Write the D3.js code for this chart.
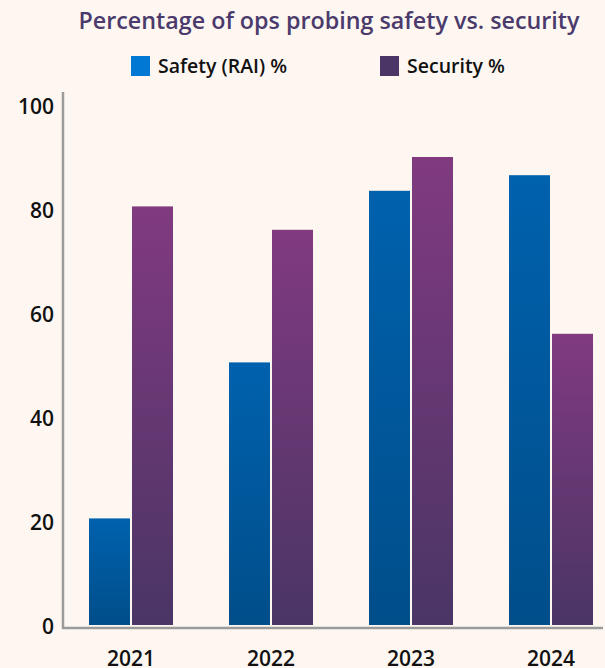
<!DOCTYPE html>
<html>
<head>
<meta charset="utf-8">
<script src="https://cdn.jsdelivr.net/npm/d3@7"></script>
<style>
  html, body { margin: 0; padding: 0; background: #fef7f1; }
  svg { display: block; font-family: "Open Sans", "Noto Sans", sans-serif; }
  .tick-label { fill: #111; font-size: 21px; font-weight: 600; }
</style>
</head>
<body>
<svg width="605" height="668"></svg>
<script>
// Chart data
const years = ["2021", "2022", "2023", "2024"];
const seriesNames = ["Safety (RAI) %", "Security %"];
const safetyValues = [20.5, 50.5, 83.5, 86.5];
const securityValues = [80.5, 76, 90, 56];
const yTicks = [0, 20, 40, 60, 80, 100];

const width = 605;
const height = 668;

const svg = d3.select("svg");

// Gradients for bars
const defs = svg.append("defs");
const gradients = [
    { id: "grad-safety", top: "#0061ad", bottom: "#004e8a" },
    { id: "grad-security", top: "#813a7f", bottom: "#4a3566" }
];
gradients.forEach(g => {
    const lg = defs.append("linearGradient")
        .attr("id", g.id)
        .attr("x1", 0).attr("y1", 0)
        .attr("x2", 0).attr("y2", 1);
    lg.append("stop").attr("offset", "0%").attr("stop-color", g.top);
    lg.append("stop").attr("offset", "100%").attr("stop-color", g.bottom);
});

// Scales
const x0 = d3.scaleBand()
    .domain(years)
    .range([61, 621])
    .paddingInner(0.4)
    .paddingOuter(0.2);

const x1 = d3.scaleBand()
    .domain(seriesNames)
    .range([0, x0.bandwidth()])
    .paddingInner(0.047);

const y = d3.scaleLinear()
    .domain([0, 100])
    .range([625, 105]);

// Title
svg.append("text")
    .attr("x", 329)
    .attr("y", 29)
    .attr("text-anchor", "middle")
    .attr("fill", "#4b3a6c")
    .style("font-size", "23.3px")
    .style("font-weight", 600)
    .text("Percentage of ops probing safety vs. security");

// Legend
const legendColors = ["#0078d4", "#4b3566"];
const legendX = [131, 380];
seriesNames.forEach((name, i) => {
    svg.append("rect")
        .attr("x", legendX[i])
        .attr("y", 56)
        .attr("width", 19)
        .attr("height", 20)
        .attr("fill", legendColors[i]);
    svg.append("text")
        .attr("x", legendX[i] + 27)
        .attr("y", 73)
        .attr("fill", "#111")
        .style("font-size", "19.5px")
        .style("font-weight", 600)
        .text(name);
});

// Bars
const data = years.map((yr, i) => ({
    year: yr,
    values: [
        { key: seriesNames[0], value: safetyValues[i], fill: "url(#grad-safety)" },
        { key: seriesNames[1], value: securityValues[i], fill: "url(#grad-security)" }
    ]
}));

svg.selectAll(".group")
    .data(data)
    .enter()
    .append("g")
    .attr("class", "group")
    .attr("transform", d => `translate(${x0(d.year)}, 0)`)
    .selectAll("rect")
    .data(d => d.values)
    .enter()
    .append("rect")
    .attr("x", d => x1(d.key))
    .attr("y", d => y(d.value))
    .attr("width", x1.bandwidth())
    .attr("height", d => y(0) - y(d.value))
    .attr("fill", d => d.fill);

// Axis lines
svg.append("line")
    .attr("x1", 63).attr("x2", 63)
    .attr("y1", 92).attr("y2", 629)
    .attr("stroke", "#9b9b9b")
    .attr("stroke-width", 2.5);

svg.append("line")
    .attr("x1", 62).attr("x2", 603)
    .attr("y1", 628).attr("y2", 628)
    .attr("stroke", "#9b9b9b")
    .attr("stroke-width", 2.5);

// Y tick labels
svg.selectAll(".y-label")
    .data(yTicks)
    .enter()
    .append("text")
    .attr("class", "tick-label")
    .attr("x", 54)
    .attr("y", d => y(d) + 2)
    .attr("dy", "0.35em")
    .attr("text-anchor", "end")
    .text(d => d);

// X tick labels
svg.selectAll(".x-label")
    .data(years)
    .enter()
    .append("text")
    .attr("class", "tick-label")
    .attr("x", d => x0(d) + x0.bandwidth() / 2)
    .attr("y", 666)
    .attr("text-anchor", "middle")
    .text(d => d);
</script>
</body>
</html>
